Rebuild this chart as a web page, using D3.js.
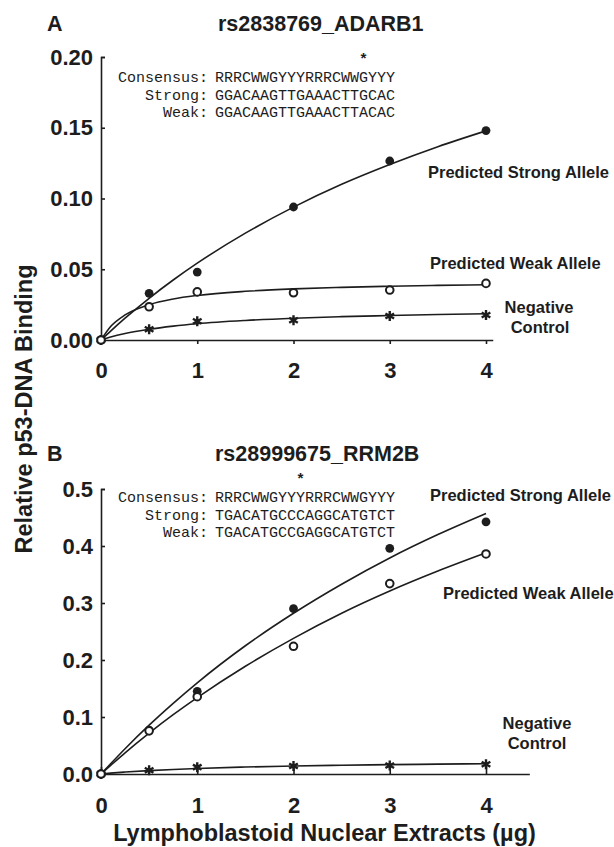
<!DOCTYPE html>
<html>
<head>
<meta charset="utf-8">
<script src="https://cdn.jsdelivr.net/npm/d3@7/dist/d3.min.js"></script>
<style>
  body { margin: 0; background: #fff; }
  text { fill: #1d1d1d; }
</style>
</head>
<body>
<svg width="614" height="847"></svg>
<script>
var doses = [0, 0.5, 1, 2, 3, 4];
var xTicks = [0, 1, 2, 3, 4];

var aStrong = [0, 0.033, 0.048, 0.094, 0.1265, 0.148];
var aWeak   = [0, 0.0235, 0.034, 0.0334, 0.0353, 0.040];
var aNeg    = [0, 0.0076, 0.0132, 0.014, 0.017, 0.0177];

var bStrong = [0, 0.077, 0.145, 0.290, 0.396, 0.4425];
var bWeak   = [0, 0.0757, 0.1356, 0.224, 0.334, 0.386];
var bNeg    = [0, 0.0065, 0.012, 0.014, 0.015, 0.017];

// fitted curves
var fitX = [0, 0.1, 0.25, 0.5, 0.75, 1, 1.5, 2, 2.5, 3, 3.5, 4];
var aStrongFit = [0, 0.0063, 0.0154, 0.0295, 0.0424, 0.0543, 0.0755, 0.0939, 0.110, 0.124, 0.1366, 0.1478];
var aWeakFit   = [0, 0.0095, 0.0177, 0.025, 0.029, 0.0315, 0.0344, 0.0361, 0.0372, 0.038, 0.0386, 0.039];
var aNegFit    = [0, 0.0021, 0.0046, 0.0076, 0.0098, 0.0115, 0.0138, 0.0154, 0.0165, 0.0173, 0.018, 0.0185];
var bStrongFit = [0, 0.018, 0.0444, 0.0857, 0.124, 0.160, 0.225, 0.282, 0.333, 0.379, 0.420, 0.457];
var bWeakFit   = [0, 0.015, 0.0372, 0.0718, 0.104, 0.134, 0.189, 0.238, 0.282, 0.321, 0.356, 0.388];
var bNegFit    = [0, 0.0015, 0.0034, 0.006, 0.008, 0.0097, 0.0122, 0.014, 0.0154, 0.0164, 0.0173, 0.018];

var aYTicks = [0, 0.05, 0.10, 0.15, 0.20];
var bYTicks = [0, 0.1, 0.2, 0.3, 0.4, 0.5];

var seqLabels = ["Consensus:", "Strong:", "Weak:"];
var aSeqs = ["RRRCWWGYYYRRRCWWGYYY", "GGACAAGTTGAAACTTGCAC", "GGACAAGTTGAAACTTACAC"];
var bSeqs = ["RRRCWWGYYYRRRCWWGYYY", "TGACATGCCCAGGCATGTCT", "TGACATGCCGAGGCATGTCT"];
var aSnp = 16, bSnp = 9;   // index of the differing base

var svg = d3.select("svg");
var bold = "'Liberation Sans', Arial, Helvetica, sans-serif";
var mono = "'Liberation Mono', 'Courier New', monospace";
var pxPerUnit = 96.25;

function drawPanel(p) {
  var g = svg.append("g");
  var x = d3.scaleLinear().domain([0, p.xEnd]).range([101, 101 + p.xEnd * pxPerUnit]);
  var y = d3.scaleLinear().domain([0, p.yMax]).range([p.y0, p.yTop]);

  // letter + title
  g.append("text").attr("x", 47).attr("y", p.titleY)
    .style("font", "bold 21.5px " + bold).text(p.letter);
  g.append("text").attr("x", p.titleX).attr("y", p.titleY)
    .style("font", "bold 21.5px " + bold).text(p.title);

  // axes
  var yAxis = d3.axisLeft(y).tickValues(p.yTicks).tickSizeInner(-4).tickSizeOuter(-4)
    .tickPadding(8).tickFormat(d3.format(p.yFmt));
  var ya = g.append("g").attr("transform", "translate(101,0)").call(yAxis);
  ya.selectAll("text").style("font", "bold 22px " + bold).attr("fill", "#1d1d1d");

  var xAxis = d3.axisBottom(x).tickValues(xTicks).tickSizeInner(p.xTick).tickSizeOuter(0)
    .tickPadding(p.xPad).tickFormat(d3.format("d"));
  var xa = g.append("g").attr("transform", "translate(0," + p.y0 + ")").call(xAxis);
  xa.selectAll("text").style("font", "bold 22px " + bold).attr("fill", "#1d1d1d");
  g.selectAll(".domain, .tick line").attr("stroke", "#1d1d1d").attr("stroke-width", 1.6);

  // fitted lines
  var line = d3.line().x(function(d) { return x(d[0]); }).y(function(d) { return y(d[1]); })
    .curve(d3.curveMonotoneX);
  p.fits.forEach(function(f) {
    g.append("path").datum(d3.zip(fitX, f)).attr("d", line)
      .attr("fill", "none").attr("stroke", "#1d1d1d").attr("stroke-width", 1.6);
  });

  // markers
  var star = d3.symbol().type(d3.symbolAsterisk).size(70);
  g.selectAll(".neg").data(d3.zip(doses, p.neg)).enter().append("path")
    .attr("transform", function(d) { return "translate(" + x(d[0]) + "," + y(d[1]) + ")"; })
    .attr("d", star).attr("fill", "none").attr("stroke", "#1d1d1d").attr("stroke-width", 2.4);
  g.selectAll(".neg-c").data(d3.zip(doses, p.neg)).enter().append("circle")
    .attr("cx", function(d) { return x(d[0]); }).attr("cy", function(d) { return y(d[1]); })
    .attr("r", 1.8).attr("fill", "#1d1d1d");
  g.selectAll(".strong").data(d3.zip(doses, p.strong)).enter().append("circle")
    .attr("cx", function(d) { return x(d[0]); }).attr("cy", function(d) { return y(d[1]); })
    .attr("r", 4.4).attr("fill", "#1d1d1d");
  g.selectAll(".weak").data(d3.zip(doses, p.weak)).enter().append("circle")
    .attr("cx", function(d) { return x(d[0]); }).attr("cy", function(d) { return y(d[1]); })
    .attr("r", 3.8).attr("fill", "#fff").attr("stroke", "#1d1d1d").attr("stroke-width", 2);

  // sequence box
  var charW = 9;
  p.seqs.forEach(function(s, i) {
    var by = p.seqY + i * 17.6;
    g.append("text").attr("x", 208).attr("y", by).attr("text-anchor", "end")
      .style("font", "15px " + mono).text(seqLabels[i]);
    g.append("text").attr("x", 215).attr("y", by)
      .style("font", "15px " + mono).text(s);
  });
  g.append("text").attr("x", 215 + (p.snp + 0.5) * charW).attr("y", p.seqY - 18)
    .attr("text-anchor", "middle").style("font", "bold 15px " + mono).text("*");

  // series labels
  p.labels.forEach(function(l) {
    g.append("text").attr("x", l[0]).attr("y", l[1]).attr("text-anchor", l[3] || "start")
      .style("font", "bold 16.5px " + bold).text(l[2]);
  });
}

drawPanel({
  letter: "A", title: "rs2838769_ADARB1", titleX: 218, titleY: 31,
  xEnd: 4.07, yMax: 0.20, y0: 340, yTop: 57, yTicks: aYTicks, yFmt: ".2f",
  xTick: 4, xPad: 18,
  strong: aStrong, weak: aWeak, neg: aNeg, fits: [aStrongFit, aWeakFit, aNegFit],
  seqs: aSeqs, snp: aSnp, seqY: 82,
  labels: [[428, 178, "Predicted Strong Allele"], [430, 269, "Predicted Weak Allele"],
           [539, 313, "Negative", "middle"], [540, 333, "Control", "middle"]]
});

drawPanel({
  letter: "B", title: "rs28999675_RRM2B", titleX: 215, titleY: 461,
  xEnd: 4.45, yMax: 0.5, y0: 774, yTop: 489, yTicks: bYTicks, yFmt: ".1f",
  xTick: -7, xPad: 23,
  strong: bStrong, weak: bWeak, neg: bNeg, fits: [bStrongFit, bWeakFit, bNegFit],
  seqs: bSeqs, snp: bSnp, seqY: 502,
  labels: [[430, 501, "Predicted Strong Allele"], [443, 599, "Predicted Weak Allele"],
           [537, 729, "Negative", "middle"], [537, 749, "Control", "middle"]]
});

// shared axis titles
svg.append("text").attr("transform", "translate(32,409) rotate(-90)").attr("text-anchor", "middle")
  .style("font", "bold 23.5px " + bold).text("Relative p53-DNA Binding");
svg.append("text").attr("x", 324.5).attr("y", 841).attr("text-anchor", "middle")
  .style("font", "bold 23.5px " + bold).text("Lymphoblastoid Nuclear Extracts (µg)");
</script>
</body>
</html>
